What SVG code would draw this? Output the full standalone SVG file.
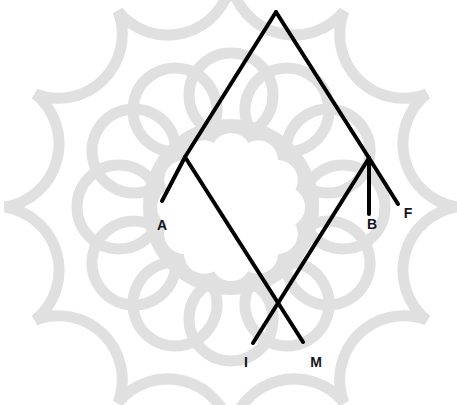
<svg xmlns="http://www.w3.org/2000/svg" width="457" height="405" viewBox="0 0 457 405">
<style>
.bg{fill:none;stroke:#e0e0e0;stroke-width:11}
.edge{stroke:#000;stroke-width:4;stroke-linecap:round;fill:none}
.lbl{font-family:"Liberation Sans",Arial,sans-serif;font-weight:bold;font-size:14px;fill:#141420;text-anchor:middle}
</style>
<defs>
<circle id="loop" cx="0" cy="-112" r="42"/>
<circle id="petal" cx="0" cy="-54" r="20"/>
</defs>
<rect width="457" height="405" fill="#fff"/>
<g id="watermark" transform="translate(231,207)">
<path class="bg" d="M0,-226 A64,64 0 0 1 -113,-195.7 A64,64 0 0 1 -195.7,-113 A64,64 0 0 1 -226,0 A64,64 0 0 1 -195.7,113 A64,64 0 0 1 -113,195.7 A64,64 0 0 1 0,226 A64,64 0 0 1 113,195.7 A64,64 0 0 1 195.7,113 A64,64 0 0 1 226,0 A64,64 0 0 1 195.7,-113 A64,64 0 0 1 113,-195.7 A64,64 0 0 1 0,-226 Z"/>
<g class="bg">
<use href="#loop"/><use href="#loop" transform="rotate(30)"/><use href="#loop" transform="rotate(60)"/><use href="#loop" transform="rotate(90)"/><use href="#loop" transform="rotate(120)"/><use href="#loop" transform="rotate(150)"/><use href="#loop" transform="rotate(180)"/><use href="#loop" transform="rotate(210)"/><use href="#loop" transform="rotate(240)"/><use href="#loop" transform="rotate(270)"/><use href="#loop" transform="rotate(300)"/><use href="#loop" transform="rotate(330)"/>
</g>
<circle r="88" fill="#e0e0e0"/>
<g fill="#fff">
<circle r="50"/>
<use href="#petal"/><use href="#petal" transform="rotate(30)"/><use href="#petal" transform="rotate(60)"/><use href="#petal" transform="rotate(90)"/><use href="#petal" transform="rotate(120)"/><use href="#petal" transform="rotate(150)"/><use href="#petal" transform="rotate(180)"/><use href="#petal" transform="rotate(210)"/><use href="#petal" transform="rotate(240)"/><use href="#petal" transform="rotate(270)"/><use href="#petal" transform="rotate(300)"/><use href="#petal" transform="rotate(330)"/>
</g>
</g>
<g id="connectors" class="edge">
<line x1="276" y1="12" x2="185" y2="157"/>
<line x1="276" y1="12" x2="369" y2="158"/>
<line x1="185" y1="157" x2="162" y2="201"/>
<line x1="185" y1="157" x2="303" y2="342"/>
<line x1="369" y1="158" x2="253" y2="343"/>
<line x1="369" y1="158" x2="369" y2="214"/>
<line x1="369" y1="158" x2="398" y2="204"/>
</g>
<g id="node-root"/>
<g id="node-left"/>
<g id="node-right"/>
<g id="node-cross"/>
<g id="leaf-A"><text class="lbl" x="162" y="230">A</text></g>
<g id="leaf-B"><text class="lbl" x="372" y="228.5">B</text></g>
<g id="leaf-F"><text class="lbl" x="408" y="217.5">F</text></g>
<g id="leaf-I"><text class="lbl" x="246" y="367">I</text></g>
<g id="leaf-M"><text class="lbl" x="316" y="367">M</text></g>
</svg>
